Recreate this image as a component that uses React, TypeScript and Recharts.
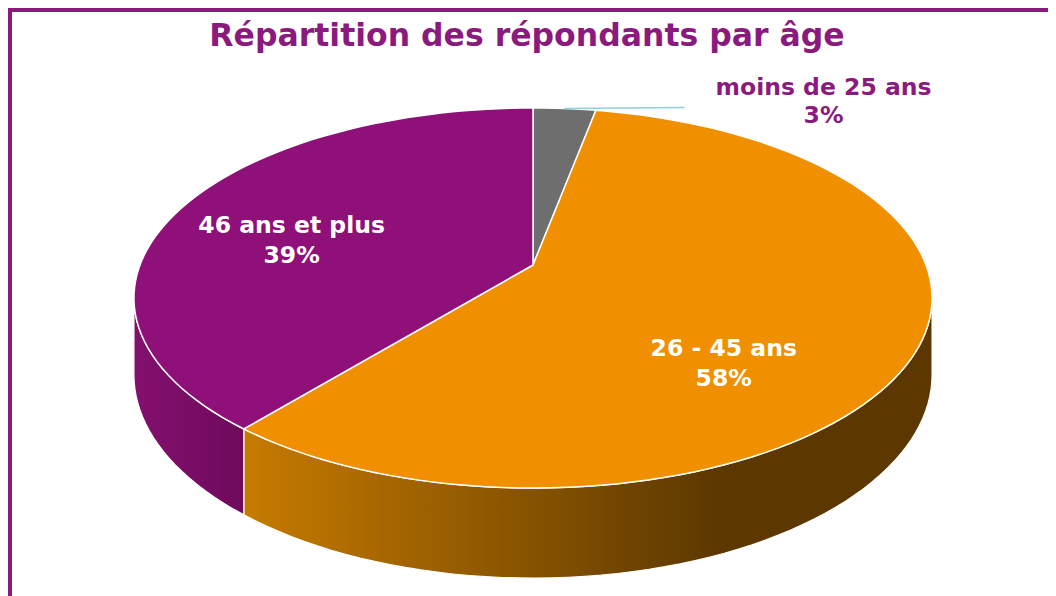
import React from 'react';
import { PieChart, Pie } from 'recharts';

// tranches d'âge et parts (%)
const categories = ['moins de 25 ans', '26 - 45 ans', '46 ans et plus'];
const shares = [3, 58, 39];

const data = categories.map((name, i) => ({ name, value: shares[i] }));

const TOP_COLORS = ['#6e6e6e', '#f09000', '#8f1078'];
const WALL_STOPS: [number, string][][] = [
  [[0, '#555555'], [1, '#333333']],
  [[0.13, '#c87c00'], [0.73, '#5c3800']],
  [[0, '#84106f'], [0.14, '#6e0a5c']],
];
const LABEL_COLORS = ['#8b1a7f', '#ffffff', '#ffffff'];
// décalage angulaire / rayon relatif des étiquettes intérieures
const LABEL_SHIFT = [0, 22.5, -7.4];
const LABEL_RADIUS = [1, 0.66, 0.644];

const CX = 533;
const CY = 265;
const R = 393;
const TILT = 0.469;
const K = 0.1737; // perspective
const DEPTH = 74.4;
const SIL = (Math.acos(-K) * 180) / Math.PI;
const FONT = '"DejaVu Sans", Verdana, sans-serif';

// theta: degrés dans le sens horaire depuis le haut
function proj(cx: number, cy: number, r: number, theta: number, f = 1, drop = 0) {
  const t = (theta * Math.PI) / 180;
  const u = Math.sin(t) * f;
  const v = -Math.cos(t) * f;
  const w = 1 / (1 - K * v);
  return [cx + r * u * w, cy + r * TILT * v * w + DEPTH * w * drop];
}

function arc(cx: number, cy: number, r: number, a: number, b: number, drop: number) {
  const n = Math.max(4, Math.ceil((b - a) / 2));
  const pts: number[][] = [];
  for (let i = 0; i <= n; i++) pts.push(proj(cx, cy, r, a + ((b - a) * i) / n, 1, drop));
  return pts;
}

const toPath = (pts: number[][]) => pts.map((p) => `${p[0].toFixed(2)},${p[1].toFixed(2)}`).join(' L');

const idxOf = (props: any) =>
  typeof props.index === 'number' ? props.index : categories.indexOf(props.name ?? props.payload?.name);

const TopShape = (props: any) => {
  const { cx, cy, outerRadius, startAngle, endAngle } = props;
  const i = idxOf(props);
  const pts = arc(cx, cy, outerRadius, 90 - startAngle, 90 - endAngle, 0);
  return (
    <path
      d={`M${cx},${cy} L${toPath(pts)} Z`}
      fill={TOP_COLORS[i]}
      stroke="#ffffff"
      strokeWidth={1.5}
      strokeLinejoin="round"
    />
  );
};

const WallShape = (props: any) => {
  const { cx, cy, outerRadius, startAngle, endAngle } = props;
  const i = idxOf(props);
  const a = Math.max(90 - startAngle, SIL);
  const b = Math.min(90 - endAngle, 360 - SIL);
  if (b <= a) return <g />;
  const top = arc(cx, cy, outerRadius, a, b, 0);
  const bot = arc(cx, cy, outerRadius, a, b, 1).reverse();
  const id = `wall-grad-${i}`;
  return (
    <g>
      <defs>
        <linearGradient id={id} gradientUnits="userSpaceOnUse" x1={cx - outerRadius * 1.02} x2={cx + outerRadius * 1.02} y1={0} y2={0}>
          {WALL_STOPS[i].map(([o, c]) => (
            <stop key={o} offset={o} stopColor={c} />
          ))}
        </linearGradient>
      </defs>
      <path d={`M${toPath(top)} L${toPath(bot)} Z`} fill={`url(#${id})`} stroke="#ffffff" strokeWidth={1.2} strokeLinejoin="round" />
    </g>
  );
};

const renderLabel = (props: any) => {
  const { cx, cy, outerRadius, midAngle, percent } = props;
  const i = idxOf(props);
  const theta = 90 - midAngle;
  const pct = `${Math.round(percent * 100)}%`;
  const style = { fontFamily: FONT, fontWeight: 700, fontSize: 23.5 };
  if (i === 0) {
    const [sx, sy] = proj(cx, cy, outerRadius, theta, 1);
    const ex = sx + 120;
    const tx = sx + 259;
    return (
      <g>
        <line x1={sx} y1={sy} x2={ex} y2={sy - 1} stroke="#8fd0e0" strokeWidth={1.5} />
        <text x={tx} y={sy - 14} textAnchor="middle" fill={LABEL_COLORS[i]} style={style}>
          {categories[i]}
        </text>
        <text x={tx} y={sy + 14} textAnchor="middle" fill={LABEL_COLORS[i]} style={style}>
          {pct}
        </text>
      </g>
    );
  }
  const [x, y] = proj(cx, cy, outerRadius, theta + LABEL_SHIFT[i], LABEL_RADIUS[i]);
  return (
    <g>
      <text x={x} y={y - 7} textAnchor="middle" fill={LABEL_COLORS[i]} style={style}>
        {categories[i]}
      </text>
      <text x={x} y={y + 23} textAnchor="middle" fill={LABEL_COLORS[i]} style={style}>
        {pct}
      </text>
    </g>
  );
};

export default function App() {
  return (
    <div style={{ position: 'relative', width: 1048, height: 588, background: '#ffffff' }}>
      <div
        style={{
          position: 'absolute',
          left: 0,
          top: 0,
          width: 1048,
          height: 588,
          boxSizing: 'border-box',
          borderTop: '4px solid #8c1a7d',
          borderLeft: '4px solid #8c1a7d',
        }}
      />
      <div style={{ position: 'absolute', left: -8, top: -8 }}>
        <PieChart width={1056} height={596} margin={{ top: 0, right: 0, bottom: 0, left: 0 }}>
          <Pie
            data={data}
            dataKey="value"
            nameKey="name"
            cx={CX}
            cy={CY}
            outerRadius={R}
            startAngle={90}
            endAngle={-270}
            stroke="none"
            shape={WallShape}
            label={false}
            labelLine={false}
            isAnimationActive={false}
          />
          <Pie
            data={data}
            dataKey="value"
            nameKey="name"
            cx={CX}
            cy={CY}
            outerRadius={R}
            startAngle={90}
            endAngle={-270}
            stroke="none"
            shape={TopShape}
            label={renderLabel}
            labelLine={false}
            isAnimationActive={false}
          />
        </PieChart>
      </div>
      <svg width={1056} height={60} style={{ position: 'absolute', left: -8, top: -8, pointerEvents: 'none' }}>
        <text x={527} y={46} textAnchor="middle" fill="#8b1a7f" style={{ fontFamily: FONT, fontWeight: 700, fontSize: 31.5 }}>
          Répartition des répondants par âge
        </text>
      </svg>
    </div>
  );
}
